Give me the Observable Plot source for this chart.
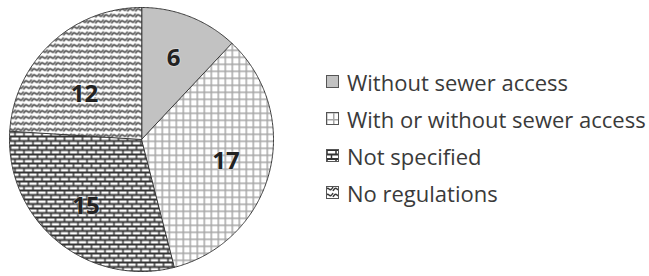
<!DOCTYPE html>
<html>
<head>
<meta charset="utf-8">
<script src="https://cdn.jsdelivr.net/npm/d3@7"></script>
<script src="https://cdn.jsdelivr.net/npm/@observablehq/plot@0.6"></script>
<style>
  html, body { margin: 0; padding: 0; background: #fff; }
  #wrap { position: relative; width: 649px; height: 276px; }
  #legend { position: absolute; left: 326px; top: 63px; font-family: "Open Sans", sans-serif; font-size: 22px; color: #3a3a3a; }
  .item { display: flex; align-items: center; height: 37px; white-space: nowrap; }
  .item svg { margin-right: 8px; }
</style>
</head>
<body>
<div id="wrap"><div id="legend"></div></div>
<script>
// ---- data ----
const categories = ["Without sewer access", "With or without sewer access", "Not specified", "No regulations"];
const values = [6, 17, 15, 12];
const valueLabels = ["6", "17", "15", "12"];

// ---- styles (not data) ----
const fills = ["#c2c2c2", "url(#p-grid)", "url(#p-brick)", "url(#p-wave)"];
const labelRadius = [0.66, 0.66, 0.66, 0.55];
const labelAngleShift = [0, 0, 0, -0.15];

const pie = d3.pie().sort(null).value(d => d)(values);

const pts = [];
pie.forEach((s, i) => {
  pts.push({slice: i, x: 0, y: 0, f: fills[i]});
  const n = Math.max(2, Math.ceil((s.endAngle - s.startAngle) / 0.01));
  for (let k = 0; k <= n; k++) {
    const a = s.startAngle + (s.endAngle - s.startAngle) * k / n;
    pts.push({slice: i, x: Math.sin(a), y: Math.cos(a), f: fills[i]});
  }
});

const labels = pie.map((s, i) => {
  const a = (s.startAngle + s.endAngle) / 2 + labelAngleShift[i];
  return {x: labelRadius[i] * Math.sin(a), y: labelRadius[i] * Math.cos(a), t: valueLabels[i]};
});

const svg = Plot.plot({
  width: 649,
  height: 276,
  margin: 0,
  x: {domain: [-1, 1], range: [9, 273], axis: null},
  y: {domain: [-1, 1], range: [271, 7], axis: null},
  color: {type: "identity"},
  marks: [
    Plot.line(pts, {x: "x", y: "y", z: "slice", fill: "f", stroke: "#3a3a3a", strokeWidth: 1, curve: "linear-closed"}),
    Plot.text(labels, {x: "x", y: "y", text: "t", fontSize: 24, fontWeight: 700, fill: "#222",
      stroke: "#ffffff", strokeOpacity: 0.3, strokeWidth: 2, fontFamily: "Open Sans"})
  ]
});
svg.style.fontFamily = "Open Sans";

const defs = d3.select(svg).insert("defs", ":first-child");
// grid pattern
const g = defs.append("pattern").attr("id", "p-grid").attr("patternUnits", "userSpaceOnUse").attr("width", 7).attr("height", 7);
g.append("rect").attr("width", 7).attr("height", 7).attr("fill", "#fff");
g.append("path").attr("d", "M0,0.75H7M0.75,0V7").attr("stroke", "#a6a6a6").attr("stroke-width", 1.5);
// brick pattern
const b = defs.append("pattern").attr("id", "p-brick").attr("patternUnits", "userSpaceOnUse").attr("width", 9).attr("height", 9);
b.append("rect").attr("width", 9).attr("height", 9).attr("fill", "#fff");
b.append("path").attr("d", "M0,1H9M0,5.5H9").attr("stroke", "#333").attr("stroke-width", 1.8);
b.append("path").attr("d", "M1,1V5.5M5.5,5.5V9").attr("stroke", "#333").attr("stroke-width", 1.5);
// wave pattern
const w = defs.append("pattern").attr("id", "p-wave").attr("patternUnits", "userSpaceOnUse").attr("width", 8).attr("height", 6);
w.append("rect").attr("width", 8).attr("height", 6).attr("fill", "#fff");
w.append("path").attr("d", "M-1,5 Q1,1 3,3 T7,1 M7,5 Q9,1 11,3").attr("fill", "none").attr("stroke", "#3a3a3a").attr("stroke-width", 1.5);

document.getElementById("wrap").prepend(svg);
svg.style.position = "absolute";
svg.style.left = "0";
svg.style.top = "0";

const legend = d3.select("#legend");
categories.forEach((c, i) => {
  const it = legend.append("div").attr("class", "item");
  const s = it.append("svg").attr("width", 13).attr("height", 13);
  s.append("rect").attr("x", 0.5).attr("y", 0.5).attr("width", 12).attr("height", 12)
    .attr("fill", fills[i]).attr("stroke", "#555").attr("stroke-width", 1);
  it.append("span").text(c);
});
</script>
</body>
</html>
